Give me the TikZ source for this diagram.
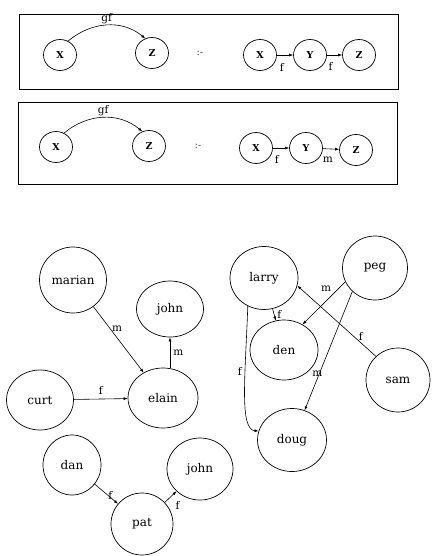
\documentclass[tikz,border=0pt]{standalone}
\usepackage{fontspec}
\setmainfont{DejaVu Serif}
\usetikzlibrary{arrows.meta,shapes.geometric}
\begin{document}
\begin{tikzpicture}[x=1pt,y=1pt,
  per/.style={draw, ellipse, line width=0.7pt, minimum width=66pt, minimum height=62pt, inner sep=0pt, font=\fontsize{12}{14}\selectfont},
  var/.style={draw, ellipse, line width=0.7pt, minimum width=33pt, minimum height=31pt, inner sep=0pt, font=\fontsize{9.5}{11}\selectfont\bfseries},
  edge/.style={line width=0.6pt, -{Latex[length=4pt,width=3pt]}},
  lab/.style={font=\fontsize{10.5}{12}\selectfont, inner sep=1pt},
  sym/.style={font=\fontsize{10}{11}\selectfont, text=black!75},
  frame/.style={draw, line width=0.7pt}]
\useasboundingbox (0,0) rectangle (431,-556);

% frames
\draw[frame] (19,-14) rectangle (398,-89);
\draw[frame] (18,-102) rectangle (397,-184);

% rule 1
\node[var] (x1) at (60,-55) {X};
\node[var] (z1) at (152,-53) {Z};
\node[sym] (r1) at (200,-53) {:-};
\node[var] (x2) at (260,-55) {X};
\node[var] (y2) at (310,-55) {Y};
\node[var] (z2) at (359,-55) {Z};
\draw[edge] (x1.60) to[out=40,in=140] node[lab, above]{gf} (z1.115);
\draw[edge] (x2) -- node[lab, below=7pt, pos=0.3]{f} (y2);
\draw[edge] (y2) -- node[lab, below=6pt, pos=0.25]{f} (z2);

% rule 2
\node[var] (x3) at (56,-147) {X};
\node[var] (z3) at (149,-146) {Z};
\node[sym] (r2) at (198,-146) {:-};
\node[var] (x4) at (256,-148) {X};
\node[var] (y4) at (306,-148) {Y};
\node[var] (z4) at (356,-150) {Z};
\draw[edge] (x3.60) to[out=40,in=140] node[lab, above]{gf} (z3.115);
\draw[edge] (x4) -- node[lab, below=6pt, pos=0.25]{f} (y4);
\draw[edge] (y4) -- node[lab, below=7pt, pos=0.3]{m} (z4);

% left family
\node[per, minimum width=67pt, minimum height=66pt] (marian) at (73,-280) {marian};
\node[per, minimum width=67pt, minimum height=56pt] (john) at (170,-309) {john};
\node[per, minimum width=70pt, minimum height=60pt] (elain) at (163,-398) {elain};
\node[per, minimum width=67pt, minimum height=60pt] (curt) at (40,-400) {curt};
\draw[edge] (marian) -- node[lab, right=1pt, pos=0.33]{m} (elain);
\draw[edge] (elain.north -| john.south) -- node[lab, right=2pt]{m} (john.south);
\draw[edge] (curt) -- node[lab, above=3pt]{f} (elain);

\node[per, minimum width=58pt, minimum height=60pt] (dan) at (72,-465) {dan};
\node[per, minimum width=66pt, minimum height=62pt] (johnb) at (200,-469) {john};
\node[per, minimum width=62pt, minimum height=62pt] (pat) at (142,-524) {pat};
\draw[edge] (dan) -- node[lab, pos=0.5, xshift=4pt, yshift=-2pt]{f} (pat);
\draw[edge] (pat) -- node[lab, pos=0.5, xshift=7pt, yshift=-9pt]{f} (johnb);

% right family
\node[per, minimum width=68pt, minimum height=63pt] (larry) at (264,-278) {larry};
\node[per, minimum width=65pt, minimum height=64pt] (peg) at (375,-268) {peg};
\node[per, minimum width=68pt, minimum height=60pt] (den) at (284,-350) {den};
\node[per, minimum width=64pt, minimum height=64pt] (sam) at (398,-380) {sam};
\node[per, minimum width=69pt, minimum height=63pt] (doug) at (292,-440) {doug};
\draw[edge] (larry) -- node[lab, right=2pt]{f} (den);
\draw[edge] (peg.205) -- node[lab, above=8pt, pos=0.45]{m} (den.54);
\draw[edge] (sam.133) -- node[lab, pos=0.23, xshift=3pt, yshift=4pt]{f} (larry.-13);
\draw[edge] (peg.226) -- node[lab, pos=0.69, xshift=-2pt]{m} (doug.67);
\draw[edge] (larry.240) to[out=-92, in=175, out looseness=1.4, in looseness=0.4] node[lab, left=2pt, pos=0.35]{f} (doug.165);
\end{tikzpicture}
\end{document}
